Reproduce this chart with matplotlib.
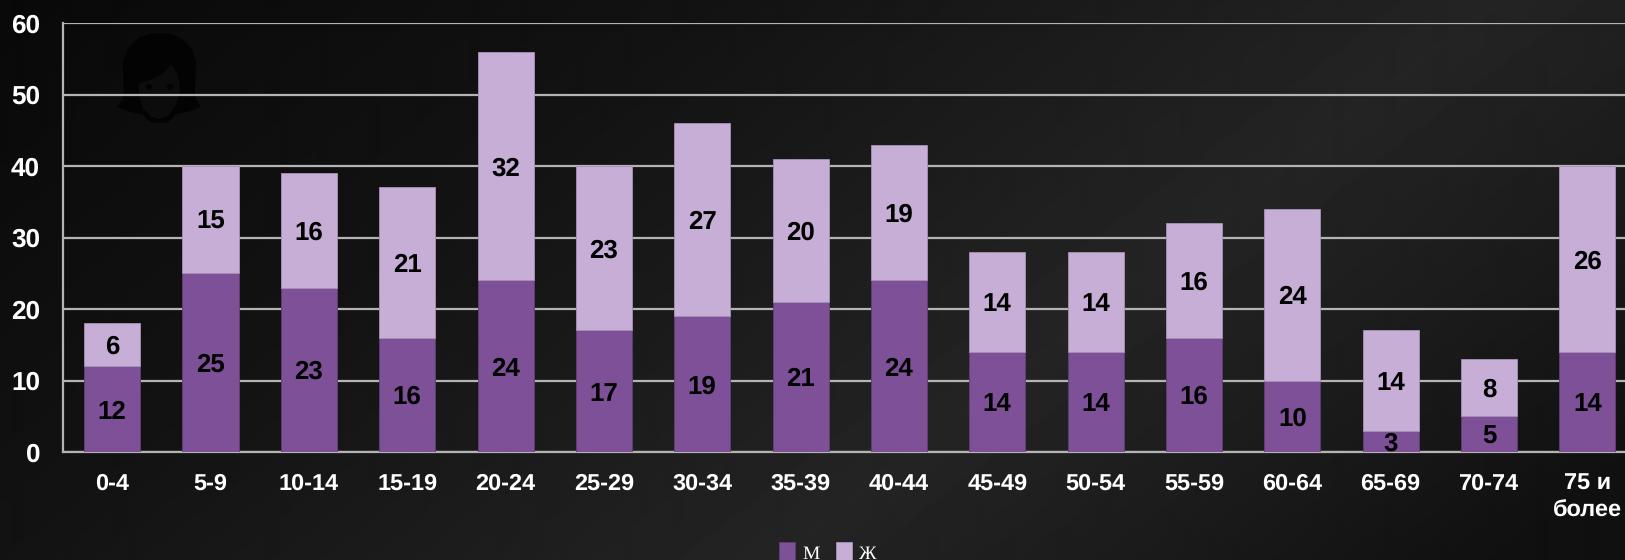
import matplotlib
matplotlib.use("Agg")
import matplotlib.pyplot as plt
import numpy as np
from matplotlib.patches import Circle, Polygon

plt.rcParams['font.family'] = ['Liberation Sans', 'DejaVu Sans']
plt.rcParams['text.hinting'] = 'no_hinting'

# Age groups and counts per sex
age_groups = ['0-4', '5-9', '10-14', '15-19', '20-24', '25-29', '30-34', '35-39',
              '40-44', '45-49', '50-54', '55-59', '60-64', '65-69', '70-74', '75 и\nболее']
men = [12, 25, 23, 16, 24, 17, 19, 21, 24, 14, 14, 16, 10, 3, 5, 14]
women = [6, 15, 16, 21, 32, 23, 27, 20, 19, 14, 14, 16, 24, 14, 8, 26]
y_ticks = [0, 10, 20, 30, 40, 50, 60]

W, H = 1625, 560
fig = plt.figure(figsize=(W / 100, H / 100), dpi=100)

# Dark slide backdrop: a diagonal band of lighter grey
bg = fig.add_axes([0, 0, 1, 1], zorder=0)
xx, yy = np.meshgrid(np.arange(0, W, 2), np.arange(0, H, 2))
diag = xx + 1.3 * yy
shade = np.interp(diag, [0, 730, 1500, 1860, 2200, 2400],
                  [0x09, 0x13, 0x24, 0x1b, 0x11, 0x10]) / 255
bg.imshow(shade, cmap='gray', vmin=0, vmax=1, aspect='auto',
          extent=[0, W, H, 0], origin='upper', interpolation='bilinear')
bg.set_xlim(0, W)
bg.set_ylim(H, 0)
bg.axis('off')

# Faint portrait silhouette in the upper left of the plot
icon = '#030303'
hair_pts = [(159, 33), (172, 34), (184, 40), (192, 50), (196, 62), (196, 72), (195, 85),
            (195, 92), (197, 100), (201, 107), (188, 112), (176, 114), (168, 122), (159, 123),
            (150, 122), (142, 114), (130, 112), (117, 107), (122, 100), (124, 92),
            (123, 80), (123, 62), (128, 48), (140, 37), (150, 34)]
bg.add_patch(Polygon(hair_pts, closed=True, fc=icon, ec='none'))
face_pts = [(139, 83), (150, 80), (163, 74), (171, 64), (178, 75), (180, 90), (176, 105),
            (168, 116), (159, 119), (150, 116), (143, 108), (139, 95)]
bg.add_patch(Polygon(face_pts, closed=True, fc='#0c0c0c', ec='none'))
bg.add_patch(Circle((149, 87), 3, fc=icon, ec='none'))
bg.add_patch(Circle((170, 87), 3, fc=icon, ec='none'))

# The plot area runs past the right edge of the figure
left, right, top, bottom = 63, 1636.5, 23, 452
ax = fig.add_axes([left / W, 1 - bottom / H, (right - left) / W, (bottom - top) / H], zorder=1)
ax.patch.set_alpha(0)
x = np.arange(len(age_groups))
bar_w = 0.57
col_m, col_w = '#7d5097', '#c6aed6'
b_m = ax.bar(x, men, bar_w, color=col_m, edgecolor='#5f3f75', linewidth=0.6, zorder=3)
b_w = ax.bar(x, women, bar_w, bottom=men, color=col_w, edgecolor='#a892b8', linewidth=0.6,
             zorder=3)
for bars in (b_m, b_w):
    for rect in bars:
        h = rect.get_height()
        ax.text(rect.get_x() + rect.get_width() / 2, rect.get_y() + h / 2, f'{int(h)}',
                ha='center', va='center_baseline', fontsize=18.6, fontweight='bold',
                color='black', zorder=4, clip_on=False)

ax.set_xlim(-0.5, len(age_groups) - 0.5)
ax.set_ylim(0, 60)
ax.set_yticks(y_ticks)
ax.set_xticks(x)
ax.set_xticklabels(age_groups, linespacing=1.33, va='top')
ax.tick_params(axis='y', length=0, pad=16.5, labelsize=18.8, labelcolor='white')
ax.tick_params(axis='x', length=0, pad=15, labelsize=16.9, labelcolor='white')
for lab in ax.get_xticklabels() + ax.get_yticklabels():
    lab.set_fontweight('bold')
ax.grid(axis='y', color='#b4b4b4', lw=1.6, zorder=1)
ax.set_axisbelow(True)
for s in ('top', 'right'):
    ax.spines[s].set_visible(False)
for s in ('left', 'bottom'):
    ax.spines[s].set_color('#b4b4b4')
    ax.spines[s].set_linewidth(1.6)

fig.legend(handles=[b_m, b_w], labels=['М', 'Ж'], ncol=2, frameon=False,
           loc='center', bbox_to_anchor=(828 / W, 1 - 552.5 / H), borderpad=0, borderaxespad=0,
           prop={'family': 'Liberation Serif', 'size': 14}, labelcolor='white',
           handlelength=0.82, handleheight=1.15, handletextpad=0.38, columnspacing=0.8)

fig.savefig('out.png', dpi=100)
